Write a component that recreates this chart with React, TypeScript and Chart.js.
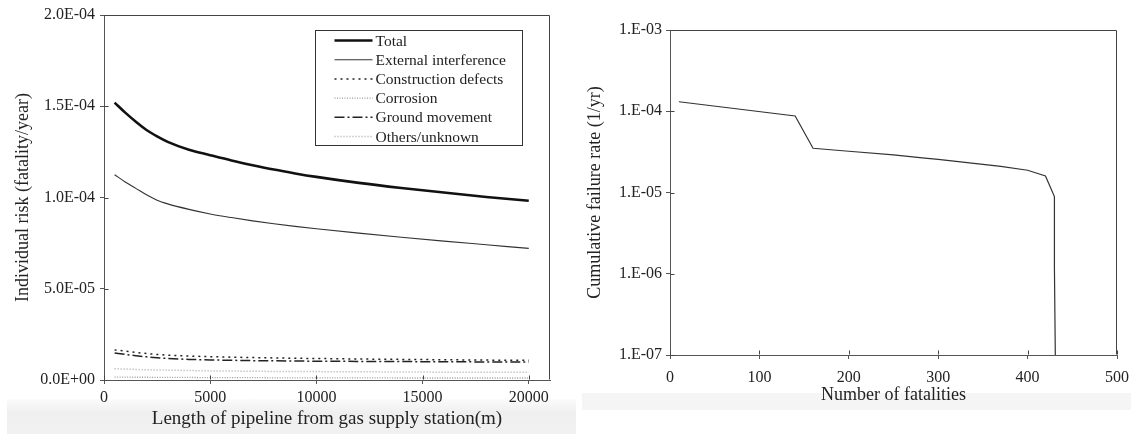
import React, { useEffect, useRef } from 'react';
import { Chart, registerables } from 'chart.js';

Chart.register(...registerables);

// ---------- Left chart data: individual risk vs. pipeline length ----------
const distance = [500, 1000, 1500, 2000, 2500, 3000, 4000, 5000, 6000, 7000, 8000, 9000, 10000, 12000, 14000, 16000, 18000, 20000];
const totalRisk = [1.52e-4, 1.465e-4, 1.415e-4, 1.37e-4, 1.335e-4, 1.305e-4, 1.262e-4, 1.232e-4, 1.203e-4, 1.177e-4, 1.153e-4, 1.132e-4, 1.113e-4, 1.08e-4, 1.052e-4, 1.027e-4, 1.003e-4, 0.982e-4];
const externalRisk = [1.125e-4, 1.085e-4, 1.05e-4, 1.015e-4, 0.985e-4, 0.965e-4, 0.935e-4, 0.91e-4, 0.89e-4, 0.872e-4, 0.856e-4, 0.842e-4, 0.829e-4, 0.805e-4, 0.782e-4, 0.761e-4, 0.741e-4, 0.721e-4];
const constructionRisk = [0.165e-4, 0.158e-4, 0.151e-4, 0.145e-4, 0.14e-4, 0.136e-4, 0.131e-4, 0.128e-4, 0.125e-4, 0.123e-4, 0.121e-4, 0.119e-4, 0.118e-4, 0.115e-4, 0.113e-4, 0.111e-4, 0.109e-4, 0.108e-4];
const corrosionRisk = [0.016e-4, 0.016e-4, 0.015e-4, 0.015e-4, 0.014e-4, 0.014e-4, 0.014e-4, 0.013e-4, 0.013e-4, 0.013e-4, 0.012e-4, 0.012e-4, 0.012e-4, 0.012e-4, 0.011e-4, 0.011e-4, 0.011e-4, 0.011e-4];
const groundRisk = [0.148e-4, 0.14e-4, 0.133e-4, 0.127e-4, 0.122e-4, 0.118e-4, 0.113e-4, 0.11e-4, 0.108e-4, 0.106e-4, 0.105e-4, 0.104e-4, 0.103e-4, 0.102e-4, 0.101e-4, 0.1e-4, 0.099e-4, 0.098e-4];
const othersRisk = [0.062e-4, 0.06e-4, 0.058e-4, 0.056e-4, 0.055e-4, 0.054e-4, 0.052e-4, 0.05e-4, 0.049e-4, 0.048e-4, 0.047e-4, 0.047e-4, 0.046e-4, 0.045e-4, 0.044e-4, 0.043e-4, 0.043e-4, 0.042e-4];
const riskSeriesNames = ['Total', 'External interference', 'Construction defects', 'Corrosion', 'Ground movement', 'Others/unknown'];
const distanceTicks = [0, 5000, 10000, 15000, 20000];
const riskTicks = [0, 5e-5, 1e-4, 1.5e-4, 2e-4];
const riskTickLabels = ['0.0E+00', '5.0E-05', '1.0E-04', '1.5E-04', '2.0E-04'];

// ---------- Right chart data: F-N curve ----------
const fatalities = [10, 140, 160, 200, 250, 285, 300, 345, 370, 400, 420, 430, 430, 431];
const failureRate = [1.31e-4, 8.75e-5, 3.5e-5, 3.22e-5, 2.9e-5, 2.65e-5, 2.55e-5, 2.25e-5, 2.1e-5, 1.88e-5, 1.6e-5, 8.9e-6, 1.2e-6, 1e-7];
const fatalityTicks = [0, 100, 200, 300, 400, 500];
const rateTicks = [1e-7, 1e-6, 1e-5, 1e-4, 1e-3];
const rateTickLabels = ['1.E-07', '1.E-06', '1.E-05', '1.E-04', '1.E-03'];

const FONT = '"Liberation Serif", "Times New Roman", serif';
const TEXT = '#222';
const AXIS = '#555';

Chart.defaults.font.family = FONT;
Chart.defaults.color = TEXT;

const framePlugin = {
  id: 'frame',
  afterDraw(chart: any, _args: any, opts: any) {
    const { ctx, chartArea: a, scales } = chart;
    const L = Math.round(a.left) + 0.5;
    const R = Math.round(a.right) - 0.5;
    const T = Math.round(a.top) + 0.5;
    const B = Math.round(a.bottom) - 0.5;
    ctx.save();
    ctx.strokeStyle = opts.color || AXIS;
    ctx.lineWidth = 1;
    ctx.beginPath();
    ctx.moveTo(L, T);
    ctx.lineTo(R, T);
    ctx.lineTo(R, B);
    ctx.stroke();
    const len = opts.inner || 4;
    ctx.beginPath();
    scales.x.ticks.forEach((t: any) => {
      const px = Math.round(scales.x.getPixelForValue(t.value)) + 0.5;
      ctx.moveTo(px, B);
      ctx.lineTo(px, B - len);
    });
    scales.y.ticks.forEach((t: any) => {
      const py = Math.round(scales.y.getPixelForValue(t.value)) + 0.5;
      ctx.moveTo(L, py);
      ctx.lineTo(L + len, py);
    });
    ctx.stroke();
    ctx.restore();
  },
};

const boxLegendPlugin = {
  id: 'boxLegend',
  afterDraw(chart: any, _args: any, opts: any) {
    if (!opts || !opts.display) return;
    const { ctx, chartArea: a } = chart;
    const x0 = Math.round(a.left + opts.x) + 0.5;
    const y0 = Math.round(a.top + opts.y) + 0.5;
    ctx.save();
    ctx.strokeStyle = '#333';
    ctx.lineWidth = 1;
    ctx.setLineDash([]);
    ctx.fillStyle = '#fff';
    ctx.fillRect(x0, y0, opts.width, opts.height);
    ctx.strokeRect(x0, y0, opts.width, opts.height);
    ctx.font = `${opts.fontSize}px ${FONT}`;
    ctx.textBaseline = 'middle';
    ctx.textAlign = 'left';
    chart.data.datasets.forEach((ds: any, i: number) => {
      const cy = y0 + opts.firstRow + i * opts.rowHeight;
      ctx.save();
      ctx.strokeStyle = ds.borderColor;
      ctx.lineWidth = ds.borderWidth;
      ctx.setLineDash(ds.borderDash || []);
      ctx.beginPath();
      ctx.moveTo(x0 + opts.sampleStart, cy);
      ctx.lineTo(x0 + opts.sampleEnd, cy);
      ctx.stroke();
      ctx.restore();
      ctx.fillStyle = TEXT;
      ctx.fillText(ds.label, x0 + opts.textStart, cy + 1);
    });
    ctx.restore();
  },
};

function pts(xs: number[], ys: number[]) {
  return xs.map((x, i) => ({ x, y: ys[i] }));
}

const fitX = (h: number) => (s: any) => { s.height = h; s.paddingLeft = 0; s.paddingRight = 0; };
const fitY = (w: number) => (s: any) => { s.width = w; s.paddingTop = 0; s.paddingBottom = 0; };

function leftConfig(): any {
  const styles = [
    { borderColor: '#111', borderWidth: 2.6, borderDash: [] as number[] },
    { borderColor: '#333', borderWidth: 1.1, borderDash: [] as number[] },
    { borderColor: '#222', borderWidth: 1.5, borderDash: [2, 4] },
    { borderColor: '#999', borderWidth: 1.3, borderDash: [1, 1.5] },
    { borderColor: '#222', borderWidth: 1.5, borderDash: [10, 3, 2, 3] },
    { borderColor: '#aaa', borderWidth: 1.5, borderDash: [1, 2] },
  ];
  const series = [totalRisk, externalRisk, constructionRisk, corrosionRisk, groundRisk, othersRisk];
  return {
    type: 'line',
    data: {
      datasets: series.map((s, i) => ({
        label: riskSeriesNames[i],
        data: pts(distance, s),
        ...styles[i],
        pointRadius: 0,
        fill: false,
        cubicInterpolationMode: 'monotone',
      })),
    },
    options: {
      responsive: false,
      animation: false,
      events: [],
      layout: { padding: { left: 0, right: 10, top: 15, bottom: 0 } },
      plugins: {
        legend: { display: false },
        tooltip: { enabled: false },
        frame: { color: '#444', inner: 4 },
        boxLegend: {
          display: true, x: 211, y: 15, width: 207, height: 115,
          firstRow: 10, rowHeight: 19.2, sampleStart: 19, sampleEnd: 57, textStart: 60, fontSize: 15.5,
        },
      },
      scales: {
        x: {
          type: 'linear', min: 0, max: 21000,
          afterBuildTicks: (s: any) => { s.ticks = distanceTicks.map((v) => ({ value: v })); },
          ticks: { font: { size: 16 }, color: TEXT, padding: 4, maxRotation: 0, autoSkip: false, callback: (v: any) => String(v) },
          grid: { drawOnChartArea: false, drawTicks: true, tickLength: 4, color: AXIS },
          border: { color: AXIS, width: 1 },
          title: { display: true, text: 'Length of pipeline from gas supply station(m)', font: { size: 19 }, color: TEXT, padding: { top: 0, bottom: 4 } },
          afterFit: fitX(54),
        },
        y: {
          type: 'linear', min: 0, max: 2e-4,
          afterBuildTicks: (s: any) => { s.ticks = riskTicks.map((v) => ({ value: v })); },
          ticks: { font: { size: 16 }, color: TEXT, padding: 5, callback: (v: any) => riskTickLabels[riskTicks.indexOf(v)] },
          grid: { drawOnChartArea: false, drawTicks: true, tickLength: 4, color: AXIS },
          border: { color: AXIS, width: 1 },
          title: { display: true, text: 'Individual risk (fatality/year)', font: { size: 18 }, color: TEXT, padding: { top: 12, bottom: 0 } },
          afterFit: fitY(104),
        },
      },
    },
    plugins: [framePlugin, boxLegendPlugin],
  };
}

function rightConfig(): any {
  return {
    type: 'line',
    data: {
      datasets: [{
        label: 'Cumulative failure rate',
        data: pts(fatalities, failureRate),
        borderColor: '#333',
        borderWidth: 1.2,
        pointRadius: 0,
        fill: false,
        tension: 0,
      }],
    },
    options: {
      responsive: false,
      animation: false,
      events: [],
      layout: { padding: { left: 0, right: 14, top: 30, bottom: 0 } },
      plugins: {
        legend: { display: false },
        tooltip: { enabled: false },
        frame: { color: '#444', inner: 4 },
        boxLegend: { display: false },
      },
      scales: {
        x: {
          type: 'linear', min: 0, max: 500,
          afterBuildTicks: (s: any) => { s.ticks = fatalityTicks.map((v) => ({ value: v })); },
          ticks: { font: { size: 16 }, color: TEXT, padding: 9, maxRotation: 0, autoSkip: false, callback: (v: any) => String(v) },
          grid: { drawOnChartArea: false, drawTicks: true, tickLength: 4, color: AXIS },
          border: { color: AXIS, width: 1 },
          title: { display: true, text: 'Number of fatalities', font: { size: 18 }, color: TEXT, padding: { top: 0, bottom: 28 } },
          afterFit: fitX(79),
        },
        y: {
          type: 'logarithmic', min: 1e-7, max: 1e-3,
          afterBuildTicks: (s: any) => { s.ticks = rateTicks.map((v) => ({ value: v })); },
          ticks: { font: { size: 16 }, color: TEXT, padding: 4, callback: (v: any) => rateTickLabels[rateTicks.findIndex((t) => Math.abs(t - v) / t < 1e-6)] },
          grid: { drawOnChartArea: false, drawTicks: true, tickLength: 4, color: AXIS },
          border: { color: AXIS, width: 1 },
          title: { display: true, text: 'Cumulative failure rate (1/yr)', font: { size: 18 }, color: TEXT, padding: { top: 24, bottom: 0 } },
          afterFit: fitY(110),
        },
      },
    },
    plugins: [framePlugin, boxLegendPlugin],
  };
}

function ChartBox({ makeConfig, left, width }: { makeConfig: () => any; left: number; width: number }) {
  const ref = useRef<HTMLCanvasElement | null>(null);
  useEffect(() => {
    if (!ref.current) return;
    const chart = new Chart(ref.current, makeConfig());
    return () => chart.destroy();
  }, [makeConfig]);
  return (
    <canvas
      ref={ref}
      width={width}
      height={434}
      style={{ position: 'absolute', left, top: 0, width, height: 434, display: 'block' }}
    />
  );
}

export default function App() {
  return (
    <div style={{ position: 'absolute', left: 0, top: 0, width: 1131, height: 434, background: '#fff', overflow: 'hidden' }}>
      <div style={{ position: 'absolute', left: 7, top: 399, width: 569, height: 35, background: 'linear-gradient(#fbfbfb, #efefef 40%, #f1f1f1)' }} />
      <div style={{ position: 'absolute', left: 582, top: 393, width: 549, height: 17, background: '#f5f5f5' }} />
      <ChartBox makeConfig={leftConfig} left={0} width={560} />
      <ChartBox makeConfig={rightConfig} left={560} width={571} />
    </div>
  );
}
